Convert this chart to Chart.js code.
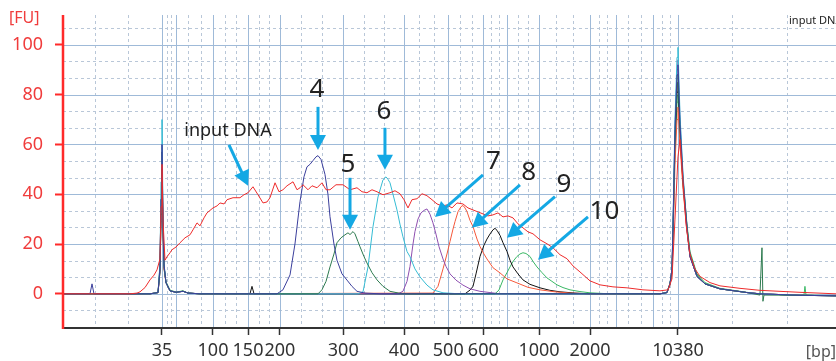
<!DOCTYPE html>
<html>
<head>
<meta charset="utf-8">
<script src="https://cdn.jsdelivr.net/npm/chart.js@4.4.1/dist/chart.umd.min.js"></script>
<style>
  html, body { margin: 0; padding: 0; background: #fff; }
  #wrap { width: 836px; height: 361px; }
</style>
</head>
<body>
<div id="wrap"><canvas id="chart" width="836" height="361"></canvas></div>
<script>
// migration time (s) of the ladder peaks and their sizes in bp
const ladderBp   = [35, 50, 100, 150, 200, 300, 400, 500, 600, 700, 1000, 2000, 3000, 7000, 10380];
const ladderTime = [43.20, 45.07, 50.00, 54.67, 58.93, 67.37, 75.51, 81.37, 86.04, 89.20, 93.47, 100.27, 103.73, 108.71, 112.00];
const labelBp    = [35, 100, 150, 200, 300, 400, 500, 600, 1000, 2000, 10380];
const yTicks     = [0, 20, 40, 60, 80, 100];

// [time s, FU]
const inputDNA = [[30.00,0],[38.93,0],[39.87,0.3],[40.27,0.8],[40.93,2.5],[41.60,5.6],[42.13,7.5],[42.53,9.6],[42.93,14],[43.07,35],[43.20,52],[43.33,30],[43.60,13.5],[43.87,14.9],[44.27,16.5],[44.53,17.7],[45.07,18.8],[45.60,20.5],[46.27,22.5],[46.93,23.7],[47.33,25.7],[47.87,28.5],[48.27,27.3],[48.80,30.5],[49.20,32.5],[50.00,34.5],[50.53,35.3],[50.93,36.5],[51.47,36.1],[51.87,37.8],[52.67,38.6],[53.60,38.6],[54.13,39.8],[54.67,40.6],[55.33,43],[56.00,39.8],[56.67,36.5],[57.20,36.9],[57.60,38.6],[58.27,44.6],[58.80,41],[59.33,41.8],[59.87,43.4],[60.67,45],[61.20,41.8],[61.60,42.6],[62.00,43.8],[62.67,41.8],[63.20,43.4],[63.87,42.6],[64.53,44.6],[65.07,41.8],[65.60,41.8],[66.40,43.8],[67.33,43.8],[68.27,41.8],[69.20,42.6],[69.87,41],[70.53,40.6],[71.20,41.8],[71.87,41],[72.67,39.8],[73.60,40.6],[74.27,41.4],[74.93,40.2],[75.47,37.8],[76.00,34.5],[76.53,37.8],[77.20,38.2],[77.87,40.2],[78.53,39.4],[79.20,37.8],[79.87,36.1],[80.53,35.3],[81.20,35.7],[81.87,34.5],[82.53,36.5],[83.33,36.1],[84.00,34.5],[84.67,33.7],[85.33,32.9],[86.00,32.1],[86.67,31.3],[87.33,31.7],[88.00,32.5],[88.67,30.9],[89.33,31.3],[90.00,30.5],[90.67,28.1],[91.33,26.5],[92.00,24.9],[92.67,24.1],[93.60,21.7],[94.53,20.1],[95.33,18.5],[96.27,15.7],[97.20,14.1],[98.00,11.2],[98.93,8.8],[100.27,5.2],[101.60,3.6],[103.33,2.8],[105.20,2.4],[107.33,1.6],[109.60,1.2],[110.67,1.6],[111.20,6],[111.60,30],[112.00,55],[112.27,62],[112.67,45],[113.07,28],[113.60,16],[114.27,10],[114.93,7],[116.27,4.5],[117.60,3.2],[120.27,2.2],[122.93,1.4],[128.27,0.6],[133.07,0]];

const frac4 = [[30.00,0],[33.60,0],[33.87,4],[34.13,0],[41.60,0],[42.67,0.5],[42.93,10],[43.07,38],[43.20,60],[43.33,30],[43.47,12],[43.73,4.5],[44.27,1.2],[45.07,0.6],[46.00,1.0],[46.67,0.3],[48.27,0],[58.53,0],[59.33,1.6],[60.27,7.6],[60.93,20],[61.60,37],[62.13,47],[62.53,51],[62.93,52],[63.33,53.5],[63.73,55],[64.00,55.5],[64.40,54],[64.93,48],[65.33,40],[65.60,31],[66.13,20],[66.53,13.5],[67.20,8],[67.87,5.5],[68.53,3],[69.20,1],[70.27,0.3],[72.27,0],[109.60,0],[110.53,0.5],[110.93,4],[111.20,10],[111.33,26],[111.60,66],[111.87,88],[112.00,92],[112.27,68],[112.67,46],[113.20,26],[113.60,15],[114.53,7],[115.60,4],[117.60,2],[121.20,0.5],[122.93,0],[128.27,-0.6],[133.07,-0.8]];

const frac5 = [[30.00,0],[41.60,0],[42.67,0.5],[42.93,9],[43.07,32],[43.20,50],[43.33,28],[43.47,11],[43.73,4.5],[44.27,1.2],[45.07,0.6],[46.00,1.1],[46.67,0.3],[48.27,0],[64.00,0],[64.53,1.6],[65.07,5],[65.60,10.8],[66.13,16],[66.53,20.5],[67.07,22.5],[67.60,23.7],[68.00,24.5],[68.27,23.8],[68.67,25],[68.93,24.1],[69.33,21],[69.60,18.9],[70.13,15],[70.53,12.4],[71.20,8.5],[71.87,5.6],[72.67,3],[73.60,1],[74.93,0.2],[76.00,0],[109.60,0],[110.53,0.5],[110.93,4],[111.20,9],[111.33,24],[111.60,62],[111.87,84],[112.00,88],[112.27,66],[112.67,45],[113.20,27],[113.60,16],[114.53,7.5],[115.60,4],[117.60,2],[121.20,0.5],[122.93,-0.5],[123.20,18.5],[123.33,-3],[123.47,-0.5],[128.27,-0.6],[133.07,-0.8]];

const frac6 = [[30.00,0],[41.60,0],[42.67,0.5],[42.93,12],[43.07,45],[43.20,70],[43.33,33],[43.47,12],[43.73,4.5],[44.27,1.2],[45.07,0.6],[46.00,1.0],[46.67,0.3],[48.27,0],[69.33,0],[70.00,0.8],[70.67,10.8],[71.33,26.9],[72.00,38.9],[72.67,45.8],[73.07,47],[73.33,46],[73.60,44.6],[74.00,40],[74.53,33.7],[74.93,28],[75.33,22.9],[75.87,17],[76.27,14.9],[76.93,10],[77.60,6.8],[78.53,3.5],[79.33,1.6],[80.67,0.4],[82.93,0],[109.60,0],[110.53,0.5],[110.93,4],[111.20,10],[111.33,28],[111.60,70],[111.87,95],[112.00,99],[112.27,72],[112.67,48],[113.20,27],[113.60,16],[114.53,7],[115.60,4],[117.60,2],[121.20,0.5],[122.93,0],[128.27,-0.6],[133.07,-0.8]];

const frac7 = [[30.00,0],[41.60,0],[42.67,0.5],[42.93,9],[43.07,30],[43.20,48],[43.33,26],[43.47,11],[43.73,4.5],[44.27,1.2],[45.07,0.6],[46.00,1.0],[46.67,0.3],[48.27,0],[74.67,0],[75.33,1],[75.87,5],[76.27,11],[76.67,20],[76.93,25],[77.33,30],[77.73,32.5],[78.13,33.5],[78.53,34.1],[78.93,32],[79.33,28.5],[79.73,24],[80.13,19],[80.67,14],[81.07,11],[81.60,8],[82.40,5.5],[83.33,3.5],[84.27,2],[85.60,1],[86.93,0.5],[88.27,0],[109.60,0],[110.53,0.5],[110.93,4],[111.20,10],[111.33,26],[111.60,66],[111.87,90],[112.00,94],[112.27,70],[112.67,47],[113.20,27],[113.60,15],[114.53,7],[115.60,4],[117.60,2],[121.20,0.5],[122.93,0],[128.27,-0.6],[133.07,-0.8]];

const frac8 = [[30.00,0],[41.60,0],[42.67,0.5],[42.93,9],[43.07,30],[43.20,46],[43.33,25],[43.47,10],[43.73,4.5],[44.27,1.2],[45.07,0.6],[46.00,1.0],[46.67,0.3],[48.27,0],[79.33,0.3],[80.00,3],[80.67,10],[81.20,16],[81.60,21],[82.00,26],[82.27,29],[82.67,33],[83.07,35],[83.33,35.5],[83.60,34.5],[83.87,33],[84.27,29.5],[84.67,27],[85.20,22],[85.60,19],[86.13,16],[86.53,14],[87.33,10.5],[88.27,8.4],[89.20,6],[90.53,4.4],[92.00,2.6],[93.60,1.6],[95.60,0.8],[97.60,0.3],[100.27,0],[109.60,0],[110.53,0.5],[110.93,3.5],[111.20,8],[111.33,20],[111.60,52],[111.87,70],[112.00,75],[112.27,60],[112.67,42],[113.20,25],[113.60,15],[114.53,7],[115.60,4],[117.60,2],[121.20,0.5],[122.93,0],[128.27,-0.6],[133.07,-0.8]];

const frac9 = [[30.00,0],[41.60,0],[42.67,0.5],[42.93,11],[43.07,38],[43.20,57],[43.33,29],[43.47,11],[43.73,4.5],[44.27,1.2],[45.07,0.6],[46.00,1.0],[46.67,0.3],[48.27,0],[54.93,0],[55.20,3],[55.47,0],[83.60,0],[84.27,1.5],[84.67,3],[85.07,8],[85.60,15],[86.13,19.5],[86.53,22],[86.93,24],[87.33,25.7],[87.60,26.3],[87.87,25.5],[88.27,23.5],[88.67,20.5],[89.20,17],[89.60,13.5],[90.00,10.8],[90.67,8],[91.33,5.6],[92.27,3.8],[93.60,2.4],[94.93,1.4],[96.27,0.8],[98.27,0.3],[100.27,0],[109.60,0],[110.53,0.5],[110.93,4],[111.20,9],[111.33,24],[111.60,60],[111.87,81],[112.00,85],[112.27,64],[112.67,44],[113.20,26],[113.60,15],[114.53,7],[115.60,4],[117.60,2],[121.20,0.5],[122.93,0],[128.27,-0.6],[133.07,-0.8]];

const frac10 = [[30.00,0],[41.60,0],[42.67,0.5],[42.93,9],[43.07,29],[43.20,45],[43.33,25],[43.47,10],[43.73,5],[44.27,1.5],[45.07,0.7],[46.00,1.2],[46.67,0.3],[48.27,0],[87.60,0],[88.13,1.5],[88.67,5.6],[89.20,8.5],[89.60,10.8],[90.00,13],[90.53,15],[90.93,16],[91.33,16.5],[91.73,16.2],[92.27,15],[92.67,13],[93.20,10.8],[93.87,8.5],[94.53,6.4],[95.20,5],[95.87,3.6],[96.67,2.5],[97.60,1.6],[98.93,0.9],[100.27,0.4],[102.93,0],[109.60,0],[110.53,0.5],[110.93,4],[111.20,9],[111.33,23],[111.60,58],[111.87,77],[112.00,80],[112.27,64],[112.67,46],[113.20,28],[113.60,17],[114.53,8],[115.60,4.5],[117.60,2.2],[121.20,0.6],[122.93,0],[128.27,-0.6],[128.80,-0.5],[128.93,3],[129.07,-0.5],[133.07,-0.8]];

// callout labels and arrows, in data units (time s, FU)
const callouts = [
  { text: 'input DNA', size: 18, at: [52.0, 65.5],  from: [52.13, 59.8], to: [54.67, 43.4] },
  { text: '4',  size: 26, at: [63.87, 82.0], from: [64.00, 75.1], to: [64.00, 57.8] },
  { text: '5',  size: 26, at: [68.00, 52.0], from: [68.27, 46.6], to: [68.27, 25.7] },
  { text: '6',  size: 26, at: [72.80, 73.2], from: [72.93, 66.7], to: [72.93, 49.8] },
  { text: '7',  size: 26, at: [87.40, 53.2], from: [86.00, 47.8], to: [79.60, 30.9] },
  { text: '8',  size: 26, at: [92.10, 48.8], from: [90.93, 43.8], to: [84.53, 26.5] },
  { text: '9',  size: 26, at: [96.80, 44.0], from: [95.60, 39.0], to: [89.20, 22.5] },
  { text: '10', size: 26, at: [102.2, 33.0], from: [100.0, 30.9], to: [93.33, 13.7] }
];

const FONT = '"Noto Sans", "DejaVu Sans", sans-serif';
const toXY = arr => arr.map(([x, y]) => ({ x, y }));
const labelTime = labelBp.map(b => ladderTime[ladderBp.indexOf(b)]);

const series = [
  { label: 'input DNA', data: inputDNA, color: '#ee2b2b' },
  { label: '4',  data: frac4,  color: '#3b3f9c' },
  { label: '5',  data: frac5,  color: '#2d7a4f' },
  { label: '6',  data: frac6,  color: '#35bcd4' },
  { label: '7',  data: frac7,  color: '#8e4fb0' },
  { label: '8',  data: frac8,  color: '#f5583a' },
  { label: '9',  data: frac9,  color: '#111111' },
  { label: '10', data: frac10, color: '#3ab865' }
];

const gridPlugin = {
  id: 'fuGrid',
  beforeDatasetsDraw(chart) {
    const { ctx, chartArea: a, scales: { x, y } } = chart;
    const minorX = [34.27, 38.67, 119.2, 126.53];
    for (let i = 0; i < ladderTime.length - 1; i++) {
      const d = (ladderTime[i + 1] - ladderTime[i]) / 3;
      minorX.push(ladderTime[i] + d, ladderTime[i] + 2 * d);
    }
    const minorY = [];
    for (let k = -1; k <= 16; k++) if (k % 3 !== 0) minorY.push(k * 20 / 3);

    ctx.save();
    ctx.lineWidth = 1;
    ctx.strokeStyle = '#b9c7d8';
    ctx.setLineDash([3, 3]);
    ctx.beginPath();
    minorX.forEach(v => { const p = Math.round(x.getPixelForValue(v)) + 0.5; ctx.moveTo(p, a.top); ctx.lineTo(p, a.bottom); });
    minorY.forEach(v => { const p = Math.round(y.getPixelForValue(v)) + 0.5; ctx.moveTo(a.left, p); ctx.lineTo(a.right, p); });
    ctx.stroke();

    ctx.setLineDash([]);
    ctx.strokeStyle = '#9fbad8';
    ctx.beginPath();
    ladderTime.forEach(v => { const p = Math.round(x.getPixelForValue(v)) + 0.5; ctx.moveTo(p, a.top); ctx.lineTo(p, a.bottom); });
    yTicks.forEach(v => { const p = Math.round(y.getPixelForValue(v)) + 0.5; ctx.moveTo(a.left, p); ctx.lineTo(a.right, p); });
    ctx.stroke();
    ctx.restore();
  }
};

const calloutPlugin = {
  id: 'callouts',
  afterDatasetsDraw(chart) {
    const { ctx, chartArea: a, scales: { x, y } } = chart;
    ctx.save();
    callouts.forEach(c => {
      const x0 = x.getPixelForValue(c.from[0]), y0 = y.getPixelForValue(c.from[1]);
      const x1 = x.getPixelForValue(c.to[0]),   y1 = y.getPixelForValue(c.to[1]);
      const ang = Math.atan2(y1 - y0, x1 - x0);
      const hl = 15, hw = 8;
      ctx.strokeStyle = '#14a8e4';
      ctx.fillStyle = '#14a8e4';
      ctx.lineWidth = 3;
      ctx.beginPath();
      ctx.moveTo(x0, y0);
      ctx.lineTo(x1 - Math.cos(ang) * (hl - 2), y1 - Math.sin(ang) * (hl - 2));
      ctx.stroke();
      ctx.beginPath();
      ctx.moveTo(x1, y1);
      ctx.lineTo(x1 - Math.cos(ang) * hl - Math.sin(ang) * hw, y1 - Math.sin(ang) * hl + Math.cos(ang) * hw);
      ctx.lineTo(x1 - Math.cos(ang) * hl + Math.sin(ang) * hw, y1 - Math.sin(ang) * hl - Math.cos(ang) * hw);
      ctx.closePath();
      ctx.fill();

      ctx.fillStyle = '#222';
      ctx.font = `${c.size}px ${FONT}`;
      ctx.textAlign = 'center';
      ctx.textBaseline = 'middle';
      ctx.fillText(c.text, x.getPixelForValue(c.at[0]), y.getPixelForValue(c.at[1]));
    });

    // axis lines
    ctx.lineWidth = 2;
    ctx.strokeStyle = '#333';
    ctx.beginPath();
    ctx.moveTo(a.left, a.bottom + 1);
    ctx.lineTo(a.right, a.bottom + 1);
    ctx.stroke();
    ctx.lineWidth = 2.5;
    ctx.strokeStyle = '#ff2a2a';
    ctx.beginPath();
    ctx.moveTo(a.left, a.top);
    ctx.lineTo(a.left, a.bottom + 2);
    ctx.stroke();

    // unit labels and the small legend entry
    ctx.textBaseline = 'middle';
    ctx.fillStyle = '#f03c3c';
    ctx.font = `16px ${FONT}`;
    ctx.textAlign = 'left';
    ctx.fillText('[FU]', 9, 18);
    ctx.fillStyle = '#555';
    ctx.textAlign = 'right';
    ctx.fillText('[bp]', 836, 352);
    ctx.fillStyle = '#222';
    ctx.textAlign = 'left';
    ctx.font = `11px ${FONT}`;
    ctx.fillText('input DNA', 789, 21);
    ctx.restore();
  }
};

new Chart(document.getElementById('chart'), {
  type: 'line',
  data: {
    datasets: series.map(s => ({
      label: s.label,
      data: toXY(s.data),
      borderColor: s.color,
      borderWidth: 1,
      pointRadius: 0,
      tension: 0,
      fill: false
    }))
  },
  options: {
    responsive: false,
    animation: false,
    layout: { padding: { top: 15, right: 0, left: 0, bottom: 0 } },
    plugins: { legend: { display: false }, tooltip: { enabled: false } },
    scales: {
      x: {
        type: 'linear',
        min: 30,
        max: 133.07,
        afterBuildTicks: s => { s.ticks = labelTime.map(v => ({ value: v })); },
        afterFit: s => { s.height = 34; s.paddingLeft = 0; s.paddingRight = 0; },
        ticks: {
          autoSkip: false,
          maxRotation: 0,
          padding: 5,
          color: '#333',
          font: { size: 18, family: FONT },
          callback: (v, i) => String(labelBp[i])
        },
        grid: { drawOnChartArea: false, drawTicks: true, tickLength: 8, tickColor: '#333', tickWidth: 1.5 },
        border: { display: false }
      },
      y: {
        type: 'linear',
        min: -13.33,
        max: 112,
        afterBuildTicks: s => { s.ticks = yTicks.map(v => ({ value: v })); },
        afterFit: s => { s.width = 63; s.paddingTop = 0; },
        ticks: { color: '#f03c3c', padding: 12, font: { size: 18, family: FONT } },
        grid: { drawOnChartArea: false, drawTicks: true, tickLength: 8, tickColor: '#ff2a2a', tickWidth: 2 },
        border: { display: false }
      }
    }
  },
  plugins: [gridPlugin, calloutPlugin]
});
</script>
</body>
</html>
